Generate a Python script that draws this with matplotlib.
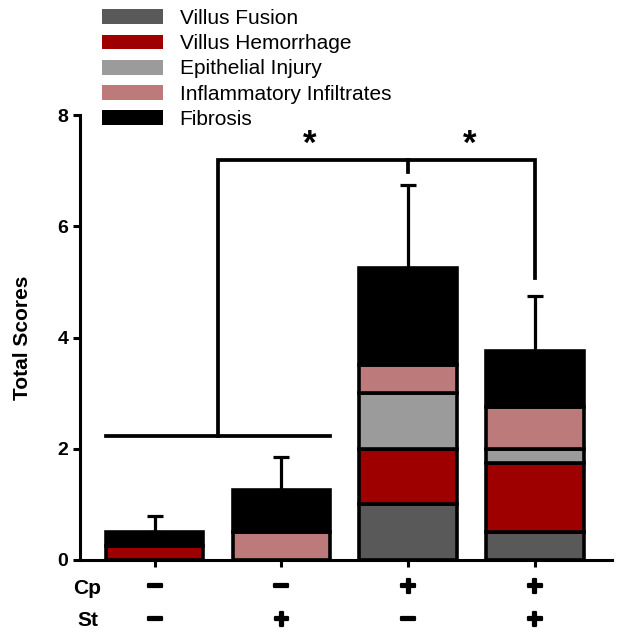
import matplotlib
matplotlib.use("Agg")
import matplotlib.pyplot as plt
import matplotlib.patheffects as pe
from matplotlib.patches import Patch
import numpy as np

plt.rcParams['font.family'] = ['Liberation Sans', 'DejaVu Sans']

# data
groups = ['Cp-/St-', 'Cp-/St+', 'Cp+/St-', 'Cp+/St+']
cp_signs = ['\u2212', '\u2212', '+', '+']
st_signs = ['\u2212', '+', '\u2212', '+']
components = ['Villus Fusion', 'Villus Hemorrhage', 'Epithelial Injury',
              'Inflammatory Infiltrates', 'Fibrosis']
villus_fusion = [0.0, 0.0, 1.0, 0.5]
villus_hemorrhage = [0.25, 0.0, 1.0, 1.25]
epithelial_injury = [0.0, 0.0, 1.0, 0.25]
inflammatory = [0.0, 0.5, 0.5, 0.75]
fibrosis = [0.25, 0.75, 1.75, 1.0]
sd_up = [0.3, 0.6, 1.5, 1.0]
colors = ['#595959', '#9e0000', '#9b9b9b', '#bc7a7a', '#000000']

series = [villus_fusion, villus_hemorrhage, epithelial_injury, inflammatory, fibrosis]

fig = plt.figure(figsize=(6.38, 6.36), dpi=100)
ax = fig.add_axes([80 / 638, 1 - 560 / 636, 532 / 638, 445 / 636])

x = np.arange(len(groups))
bottom = np.zeros(len(groups))
for vals, col in zip(series, colors):
    ax.bar(x, vals, width=0.77, bottom=bottom, color=col, edgecolor='k',
           linewidth=2.6, zorder=2)
    bottom = bottom + np.array(vals)

ax.errorbar(x, bottom, yerr=[np.zeros(len(groups)), sd_up], fmt='none',
            ecolor='k', elinewidth=2.3, capsize=5.5, capthick=2.3, zorder=3)

# significance brackets
lw = 2.7
ax.plot([-0.385, 1.385], [2.23, 2.23], color='k', lw=lw, clip_on=False)
ax.plot([0.5, 0.5, 3, 3], [2.23, 7.19, 7.19, 5.07], color='k', lw=lw,
        solid_joinstyle='miter', clip_on=False)
ax.plot([2, 2], [7.19, 6.98], color='k', lw=lw, clip_on=False)
ax.text(1.22, 7.17, '*', ha='center', va='bottom', fontsize=25, fontweight='bold')
ax.text(2.49, 7.17, '*', ha='center', va='bottom', fontsize=25, fontweight='bold')

ax.set_xlim(-0.59, 3.61)
ax.set_ylim(0, 8)
ax.set_yticks([0, 2, 4, 6, 8])
ax.set_xticks(x)
ax.set_xticklabels([])
for s in ['top', 'right']:
    ax.spines[s].set_visible(False)
for s in ['left', 'bottom']:
    ax.spines[s].set_linewidth(2.2)
ax.tick_params(axis='both', width=2.2, length=5, direction='out')
for lab in ax.get_yticklabels():
    lab.set_fontweight('bold')
    lab.set_fontsize(14)
ax.set_ylabel('Total Scores', fontsize=15, fontweight='bold', labelpad=18)

# treatment rows under the axis
tr = ax.get_xaxis_transform()
ax.text(-0.53, -0.063, 'Cp', transform=tr, ha='center', va='center',
        fontsize=15, fontweight='bold')
ax.text(-0.53, -0.137, 'St', transform=tr, ha='center', va='center',
        fontsize=15, fontweight='bold')
heavy = [pe.withStroke(linewidth=1.6, foreground='k')]
for i in range(len(groups)):
    ax.text(x[i], -0.063, cp_signs[i], transform=tr, ha='center', va='center',
            fontsize=20, fontweight='bold', path_effects=heavy)
    ax.text(x[i], -0.137, st_signs[i], transform=tr, ha='center', va='center',
            fontsize=20, fontweight='bold', path_effects=heavy)

handles = [Patch(facecolor=c, edgecolor='none') for c in colors]
fig.legend(handles, components, loc='upper left',
           bbox_to_anchor=(102 / 638, 1 - 9 / 636),
           frameon=False, fontsize=15, handlelength=2.93, handleheight=0.72,
           labelspacing=0.3, handletextpad=0.8, borderpad=0, borderaxespad=0)

fig.savefig('out.png', dpi=100)
